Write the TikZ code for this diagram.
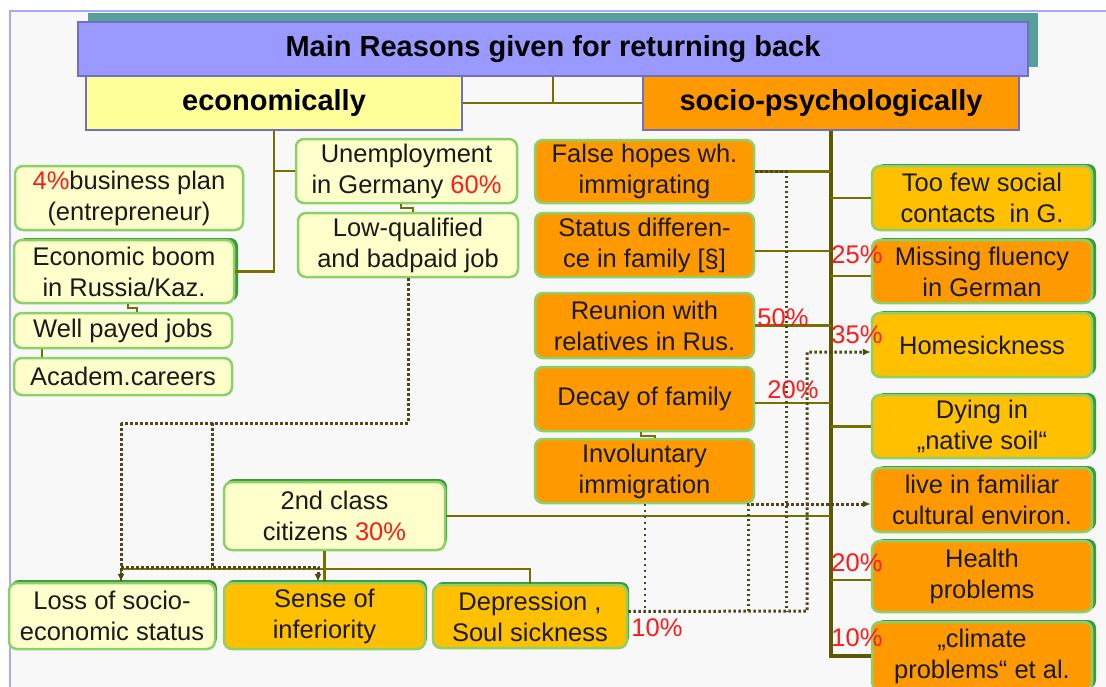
\documentclass[tikz,border=0pt]{standalone}
\usepackage{fontspec}
\setmainfont{Liberation Sans}
\usetikzlibrary{arrows.meta,shadows}
\definecolor{bggrey}{HTML}{F8F8F8}
\definecolor{framec}{HTML}{A8A8FF}
\definecolor{titlefill}{HTML}{9999FF}
\definecolor{titledraw}{HTML}{7070C0}
\definecolor{teal3d}{HTML}{55A09A}
\definecolor{ecofill}{HTML}{FFFF99}
\definecolor{orng}{HTML}{FF9900}
\definecolor{gold}{HTML}{FFC000}
\definecolor{lightyel}{HTML}{FFFFCC}
\definecolor{boxgreen}{HTML}{8CD068}
\definecolor{shgreen}{HTML}{3C9A3C}
\definecolor{olv}{HTML}{767000}
\definecolor{olvdark}{HTML}{5C5A00}
\definecolor{dotc}{HTML}{4E4818}
\definecolor{pctred}{HTML}{FF1A1A}
\definecolor{txt}{HTML}{1A1A1A}
\newcommand{\mybody}{\fontsize{25.5}{31}\selectfont}
\newcommand{\myhead}{\fontsize{29}{34}\selectfont\bfseries}
\newcommand{\pc}[1]{\textcolor{pctred}{#1}}
\begin{document}
\begin{tikzpicture}[x=1pt,y=-1pt,
  box/.style={draw=boxgreen, line width=2.5pt, rounded corners=8pt, align=center,
    inner sep=0pt, font=\mybody, text=txt},
  ly/.style={box, fill=lightyel},
  org/.style={box, fill=orng},
  gld/.style={box, fill=gold},
  sh3d/.style={general shadow={fill=shgreen, shadow xshift=4pt, shadow yshift=2pt}},
  shtop/.style={general shadow={fill=shgreen, shadow xshift=2pt, shadow yshift=3pt}},
  head/.style={draw=titledraw, line width=2pt, inner sep=0pt, font=\myhead, text=black},
  conn/.style={draw=olv, line width=2.5pt},
  mainv/.style={draw=olvdark, line width=4pt},
  tick/.style={draw=olv, line width=2pt},
  dots/.style={draw=dotc, line width=3pt, dash pattern=on 2.5pt off 2.5pt},
  thindots/.style={draw=dotc, line width=2pt, dash pattern=on 2pt off 4pt},
  tip/.style={-{Latex[length=8pt,width=7pt]}},
  pct/.style={text=pctred, font=\mybody, inner sep=0pt}
]
\useasboundingbox (0,0) rectangle (1106,686);
\fill[bggrey] (10,11) rectangle (1130,700);
\draw[framec, line width=2pt] (1130,11) -- (10,11) -- (10,700);

% headers
\node[head, fill=titlefill, minimum width=950pt, minimum height=54pt,
  general shadow={fill=teal3d, shadow xshift=10pt, shadow yshift=9pt}]
  (title) at (553,49) {Main Reasons given for returning back};
\node[head, fill=ecofill, minimum width=376pt, minimum height=54pt] (eco) at (274,103) {economically};
\node[head, fill=orng, minimum width=376pt, minimum height=54pt] (soc) at (831,103) {socio-psychologically};

% economic side
\node[ly, minimum width=228pt, minimum height=64pt] (biz) at (129,198) {\pc{4\%}business plan\\(entrepreneur)};
\node[ly, sh3d, minimum width=220pt, minimum height=63pt] (boom) at (124,271.5) {Economic boom\\in Russia/Kaz.};
\node[ly, minimum width=218pt, minimum height=35pt] (well) at (123,330.5) {Well payed jobs};
\node[ly, minimum width=218pt, minimum height=37pt] (acad) at (123,376.5) {Academ.careers};
\node[ly, minimum width=221pt, minimum height=64pt] (unemp) at (406.5,171) {Unemployment\\in Germany \pc{60\%}};
\node[ly, minimum width=220pt, minimum height=64pt] (low) at (408,245) {Low-qualified\\and badpaid job};

% socio left column
\node[org, minimum width=219pt, minimum height=63pt] (false) at (644.5,171.5) {False hopes wh.\\immigrating};
\node[org, minimum width=219pt, minimum height=64pt] (status) at (644.5,245) {Status differen-\\ce in family [§]};
\node[org, minimum width=219pt, minimum height=65pt] (reun) at (644.5,325.5) {Reunion with\\relatives in Rus.};
\node[org, minimum width=219pt, minimum height=64pt] (decay) at (644.5,399) {Decay of family};
\node[org, minimum width=219pt, minimum height=64pt] (invol) at (644.5,471) {Involuntary\\immigration};

% socio right column
\node[gld, sh3d, minimum width=220pt, minimum height=64pt] (toofew) at (982,198) {Too few social\\contacts \ in G.};
\node[org, sh3d, minimum width=220pt, minimum height=63pt] (missing) at (982,271.5) {Missing fluency\\in German};
\node[gld, sh3d, minimum width=220pt, minimum height=64pt] (home) at (982,345) {Homesickness};
\node[gld, sh3d, minimum width=220pt, minimum height=63pt] (dying) at (982,426.5) {Dying in\\„native soil“};
\node[org, sh3d, minimum width=220pt, minimum height=64pt] (live) at (982,500) {live in familiar\\cultural environ.};
\node[org, sh3d, minimum width=220pt, minimum height=71pt] (health) at (982,576.5) {Health\\problems};
\node[org, sh3d, minimum width=220pt, minimum height=68pt] (clim) at (982,656) {„climate\\problems“ et al.};

% bottom
\node[ly, shtop, minimum width=221pt, minimum height=68pt] (second) at (334.5,516) {2nd class\\citizens \pc{30\%}};
\node[ly, shtop, minimum width=206pt, minimum height=66pt] (loss) at (112,616) {Loss of socio-\\economic status};
\node[gld, shtop, minimum width=201pt, minimum height=66pt] (sense) at (324.5,616) {Sense of\\inferiority};
\node[gld, shtop, minimum width=194pt, minimum height=63pt] (dep) at (530,616.5) {Depression ,\\Soul sickness};

% solid connectors
\draw[conn] (title.south) -- (title.south |- eco.east);
\draw[conn] (eco.east) -- (soc.west);
\draw[conn] (eco.south) |- (boom.east);
\draw[conn] (eco.south |- unemp.west) -- (unemp.west);
\draw[tick] ([xshift=4pt]boom.south) -- ++(0,4) -| ([xshift=14pt]well.north);
\draw[tick] ([xshift=-81pt]well.south) -- ([xshift=-81pt]acad.north);
\draw[tick] ([xshift=-6pt]unemp.south) -- ++(0,4) -| ([xshift=5pt]low.north);
\draw[tick] ([xshift=-4pt]decay.south) -- ++(0,4) -| ([xshift=10pt]invol.north);

\draw[mainv] (soc.south) |- (clim.west);
\draw[conn] (false.east) -- (false.east -| soc.south);
\draw[conn] ([yshift=-6pt]status.east) -- ([yshift=-6pt]status.east -| soc.south);
\draw[conn] (reun.east) -- (reun.east -| soc.south);
\draw[conn] ([yshift=-4pt]decay.east) -- ([yshift=-4pt]decay.east -| soc.south);
\draw[conn] (toofew.west -| soc.south) -- (toofew.west);
\draw[conn] ([yshift=-4.5pt]missing.west -| soc.south) -- ([yshift=-4.5pt]missing.west);
\draw[conn] (dying.west -| soc.south) -- (dying.west);
\draw[conn] ([yshift=-3.5pt]health.west -| soc.south) -- ([yshift=-3.5pt]health.west);
\draw[conn] (second.east) -- (second.east -| soc.south);

\coordinate (hb) at (0,569);
\coordinate (dl1) at (121,423);
\coordinate (dl2) at (212,423);
\coordinate (dl3) at (212,567);
\coordinate (dl4) at (318,567);
\draw[conn] (second.south -| sense.north) -- (sense.north);
\draw[conn] (dl1 |- hb) -- (dep.north |- hb) -- (dep.north);
\draw[conn] (dl1 |- hb) -- (dl1 |- loss.north);

% dotted connectors, economic side
\draw[dots] (low.south) |- (dl1);
\draw[dots, tip] (dl1) -- (dl1 |- loss.north);
\draw[dots, tip] (dl2) -- (dl3) -- (dl4) -- (dl4 |- sense.north);
\draw[dots] (dl1 |- dl3) -- (dl3);

% dotted connectors, socio side
\coordinate (dbot) at (807,611);
\coordinate (dmid) at (786,611);
\coordinate (dlive) at (748,611);
\draw[dots, tip] ([yshift=5pt]dep.east) -- (dbot) |- ([yshift=-7pt]home.west);
\draw[dots] (false.east) -| (dmid);
\draw[dots, tip] (dlive) |- ([yshift=-4pt]live.west);
\draw[thindots] (invol.south) -- (invol.south |- dbot);

% percentages
\node[pct] (p50) at (783,318) {50\%};
\node[pct] (p20a) at (793,390) {20\%};
\node[pct] (p25) at (857,255) {25\%};
\node[pct] (p35) at (857,335) {35\%};
\node[pct] (p20b) at (857,563) {20\%};
\node[pct] (p10a) at (857,638) {10\%};
\node[pct] (p10b) at (657,628) {10\%};
\end{tikzpicture}
\end{document}
